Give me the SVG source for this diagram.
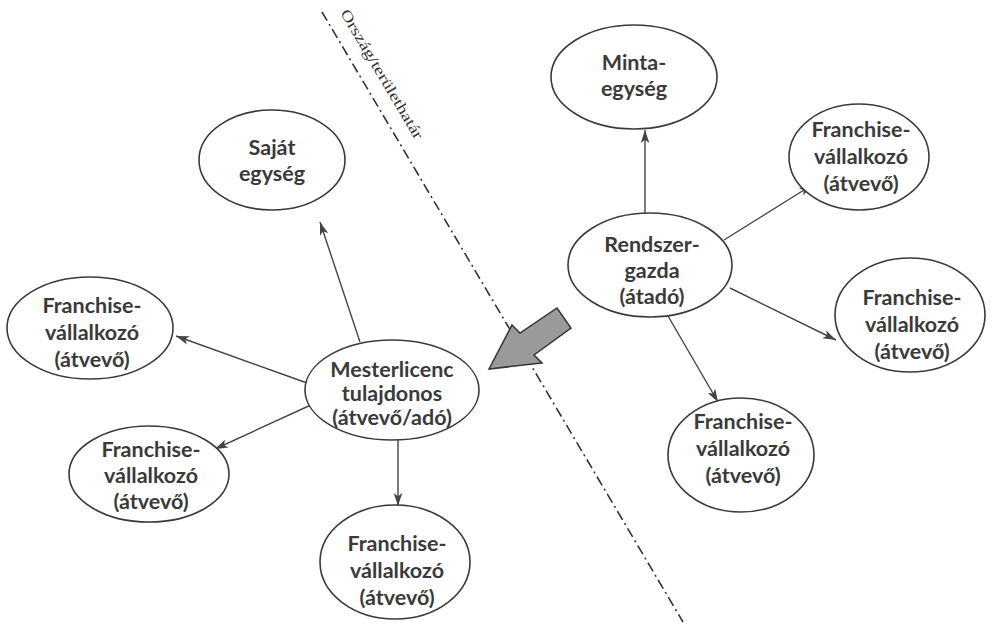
<svg xmlns="http://www.w3.org/2000/svg" width="1004" height="626" viewBox="0 0 1004 626">
<defs>
<style>
.node ellipse{fill:#fff;stroke:#3a3a3a;stroke-width:1.6}
.node text{font-family:Lato,"Open Sans","Noto Sans",sans-serif;font-weight:700;font-size:21.5px;fill:#3a3a3a;text-anchor:middle}
.conn line{stroke:#444;stroke-width:1.4;marker-end:url(#ah)}
.border{stroke:#333;stroke-width:1.6;stroke-dasharray:10 4 2 4;fill:none}
.blabel{font-family:"Liberation Serif",serif;font-size:15px;fill:#333}
</style>
<marker id="ah" viewBox="0 0 12 8" refX="12" refY="4" markerWidth="13" markerHeight="9" markerUnits="userSpaceOnUse" orient="auto">
<path d="M0,0 L12,4 L0,8 L3,4 Z" fill="#444"/>
</marker>
</defs>
<rect width="1004" height="626" fill="#fff"/>
<g id="border">
<line class="border" x1="322" y1="12" x2="683" y2="622"/>
<text class="blabel" transform="translate(340,13) rotate(59.4)" textLength="148" lengthAdjust="spacingAndGlyphs">Ország/területhatár</text>
</g>
<g id="transfer-arrow">
<polygon points="489,369 512,325 520,333 557,308 571,328 534,355 542,363" fill="#9a9a9a" stroke="#333" stroke-width="1.5" stroke-linejoin="miter"/>
</g>
<g id="connectors" class="conn">
<line x1="645" y1="213" x2="645" y2="130"/>
<line x1="724" y1="240" x2="812" y2="185"/>
<line x1="730" y1="288" x2="836" y2="340"/>
<line x1="668" y1="316" x2="718" y2="402"/>
<line x1="360" y1="342" x2="320" y2="222"/>
<line x1="307" y1="383" x2="176" y2="336"/>
<line x1="313" y1="404" x2="215" y2="449"/>
<line x1="398" y1="440" x2="398" y2="506"/>
</g>
<g id="minta" class="node">
<ellipse cx="634" cy="77" rx="83" ry="52"/>
<text x="634" y="70">Minta-</text>
<text x="634" y="96">egység</text>
</g>
<g id="rendszergazda" class="node">
<ellipse cx="650" cy="265" rx="82" ry="52"/>
<text x="652" y="252">Rendszer-</text>
<text x="652" y="278">gazda</text>
<text x="652" y="304">(átadó)</text>
</g>
<g id="franchise-tr" class="node">
<ellipse cx="859" cy="157" rx="70" ry="53"/>
<text x="861" y="137">Franchise-</text>
<text x="861" y="164">vállalkozó</text>
<text x="861" y="191">(átvevő)</text>
</g>
<g id="franchise-rm" class="node">
<ellipse cx="910" cy="315" rx="75" ry="57"/>
<text x="912" y="305">Franchise-</text>
<text x="912" y="332">vállalkozó</text>
<text x="912" y="359">(átvevő)</text>
</g>
<g id="franchise-br" class="node">
<ellipse cx="741" cy="455" rx="73" ry="57"/>
<text x="743" y="429">Franchise-</text>
<text x="743" y="456">vállalkozó</text>
<text x="743" y="483">(átvevő)</text>
</g>
<g id="mesterlicenc" class="node">
<ellipse cx="392" cy="390" rx="87" ry="50"/>
<text x="392" y="377">Mesterlicenc</text>
<text x="392" y="401">tulajdonos</text>
<text x="392" y="425">(átvevő/adó)</text>
</g>
<g id="sajat" class="node">
<ellipse cx="272" cy="160" rx="73" ry="50"/>
<text x="272" y="155">Saját</text>
<text x="272" y="181">egység</text>
</g>
<g id="franchise-lt" class="node">
<ellipse cx="90" cy="328" rx="83" ry="51"/>
<text x="92" y="313">Franchise-</text>
<text x="92" y="340">vállalkozó</text>
<text x="92" y="367">(átvevő)</text>
</g>
<g id="franchise-lb" class="node">
<ellipse cx="149" cy="474" rx="80" ry="48"/>
<text x="151" y="457">Franchise-</text>
<text x="151" y="483">vállalkozó</text>
<text x="151" y="509">(átvevő)</text>
</g>
<g id="franchise-bm" class="node">
<ellipse cx="395" cy="562" rx="75" ry="57"/>
<text x="397" y="551">Franchise-</text>
<text x="397" y="578">vállalkozó</text>
<text x="397" y="605">(átvevő)</text>
</g>
</svg>
